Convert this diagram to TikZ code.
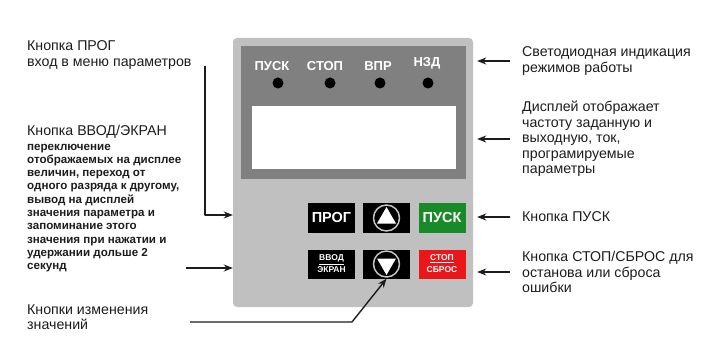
\documentclass[tikz,border=0pt]{standalone}
\usepackage{fontspec}
\setmainfont{Liberation Sans}
\usetikzlibrary{arrows.meta}
\definecolor{panelgray}{RGB}{192,192,192}
\definecolor{facegray}{RGB}{128,128,128}
\definecolor{btngreen}{RGB}{24,138,40}
\definecolor{btnred}{RGB}{234,22,26}
\definecolor{txt}{RGB}{28,28,28}
\tikzset{
  note/.style={anchor=west, align=left, inner sep=0pt, text=txt, font=\fontsize{14.2}{15.5}\selectfont},
  smallnote/.style={note, font=\bfseries\fontsize{11.6}{13.3}\selectfont},
  btn/.style={minimum width=47pt, minimum height=29pt, inner sep=0pt, text=white, font=\bfseries\fontsize{14.5}{15}\selectfont},
  tinybtn/.style={btn, align=center, font=\bfseries\fontsize{8.5}{12}\selectfont},
  ledlabel/.style={text=white, inner sep=0pt, font=\bfseries\fontsize{13}{14}\selectfont}
}
\begin{document}
\begin{tikzpicture}[x=1pt,y=-1pt,>={Stealth[length=9pt,width=7pt]},line join=round]
  \useasboundingbox (0,0) rectangle (710,342);
  \node[fill=panelgray, rounded corners=4pt, minimum width=240pt, minimum height=269pt, inner sep=0pt] (panel) at (353,172.5) {};
  \fill[facegray] (241,46) rectangle (466,179);
  \node[fill=white, minimum width=204pt, minimum height=63pt, inner sep=0pt] (disp) at (354,137.5) {};
  \foreach \i/\lx/\ly/\dx/\t in {1/272/66/278/ПУСК, 2/325/66/330/СТОП, 3/378/66/380/ВПР, 4/427/63/428/НЗД}{
    \node[ledlabel] (led\i) at (\lx,\ly) {\t};
    \fill[black] (\dx,83) circle (5.5pt);
  }
  \node[btn, fill=black] (prog) at (331.5,218) {ПРОГ};
  \node[btn, fill=black] (up) at (386.5,218) {};
  \node[btn, fill=btngreen] (pusk) at (442,218) {ПУСК};
  \node[tinybtn, fill=black] (vvod) at (331.5,264) {\underline{ВВОД}\\ЭКРАН};
  \node[btn, fill=black] (down) at (386.5,264) {};
  \node[tinybtn, fill=btnred] (stop) at (442,264) {\underline{СТОП}\\СБРОС};
  \draw[gray!45, line width=1.5pt] (up.center) circle (13pt);
  \fill[white] ([shift={(0,-11)}]up.center) -- ([shift={(-9.5,5.5)}]up.center) -- ([shift={(9.5,5.5)}]up.center) -- cycle;
  \draw[gray!45, line width=1.5pt] (down.center) circle (13pt);
  \fill[white] ([shift={(0,11)}]down.center) -- ([shift={(-9.5,-5.5)}]down.center) -- ([shift={(9.5,-5.5)}]down.center) -- cycle;
  \node[note] (progtxt) at (27,55) {Кнопка ПРОГ\\вход в меню параметров};
  \node[note] (vvodtxt) at (27,132) {Кнопка ВВОД/ЭКРАН};
  \node[smallnote] (vvodsub) at (27,208) {переключение\\отображаемых на дисплее\\величин, переход от\\одного разряда к другому,\\вывод на дисплей\\значения параметра и\\запоминание этого\\значения при нажатии и\\удержании дольше 2\\секунд};
  \node[note] (chgtxt) at (27,317) {Кнопки изменения\\значений};
  \node[note] (ledtxt) at (522,61) {Светодиодная индикация\\режимов работы};
  \node[note] (disptxt) at (522,139) {Дисплей отображает\\частоту заданную и\\выходную, ток,\\програмируемые\\параметры};
  \node[note] (pusktxt) at (522,217) {Кнопка ПУСК};
  \node[note] (stoptxt) at (522,272) {Кнопка СТОП/СБРОС для\\останова или сброса\\ошибки};
  \coordinate (progtail) at (205,66);
  \coordinate (vvodtail) at (186,268);
  \coordinate (chgtail) at (190,322);
  \coordinate (chgbend) at (352,322);
  \begin{scope}[line width=1.4pt, txt]
    \draw[->] (progtail) |- (panel.west |- 0,215);
    \draw[->] (vvodtail) -- (vvodtail -| panel.west);
    \draw[->] (chgtail) -- (chgbend) -- (down.south);
    \foreach \n in {ledtxt, disptxt, pusktxt, stoptxt}
      \draw[->] ([xshift=-12pt]\n.west) -- ([xshift=4pt]\n.west -| panel.east);
  \end{scope}
\end{tikzpicture}
\end{document}
